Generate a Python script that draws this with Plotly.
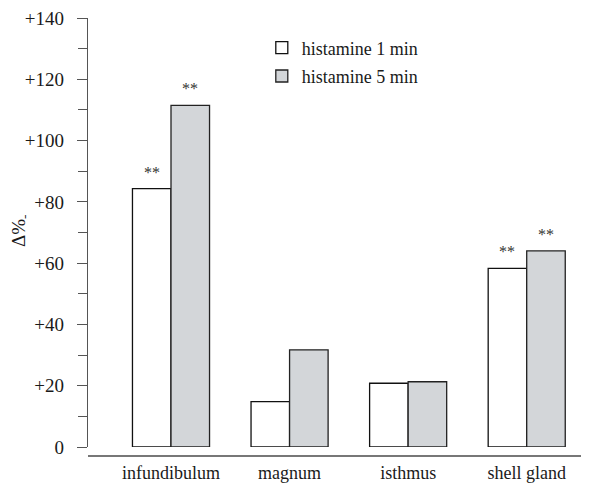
import plotly.graph_objects as go

categories = ["infundibulum", "magnum", "isthmus", "shell gland"]
series_names = ["histamine 1 min", "histamine 5 min"]
values_1min = [84.3, 14.8, 20.8, 58.3]
values_5min = [111.5, 31.7, 21.3, 64.0]
signif_1min = ["**", "", "", "**"]
signif_5min = ["**", "", "", "**"]
ytick_vals = [0, 20, 40, 60, 80, 100, 120, 140]
ytick_text = ["0", "+20", "+40", "+60", "+80", "+100", "+120", "+140"]
y_title = "Δ%<sub>-</sub>"

FONT = "Liberation Serif, Times New Roman, serif"
TXT = "#1a1a1a"

fig = go.Figure()
fig.add_trace(go.Bar(
    x=categories, y=values_1min, name=series_names[0],
    marker=dict(color="#ffffff", line=dict(color="#111111", width=1.3)),
    offsetgroup="a", legendgroup="a",
))
fig.add_trace(go.Bar(
    x=categories, y=values_5min, name=series_names[1],
    marker=dict(color="#d3d6d9", line=dict(color="#222222", width=1.3)),
    offsetgroup="b", legendgroup="b",
))

# significance markers
for i, cat in enumerate(categories):
    for vals, sig, shift in ((values_1min, signif_1min, -0.163), (values_5min, signif_5min, 0.163)):
        if sig[i]:
            fig.add_annotation(
                x=i + shift, y=vals[i], text=sig[i], showarrow=False,
                yanchor="bottom", yshift=6, xref="x", yref="y",
                font=dict(family=FONT, size=16, color="#333333"),
            )

# y axis title
fig.add_annotation(
    x=-0.1364, y=0.533, xref="paper", yref="paper", text=y_title,
    showarrow=False, textangle=-90, xanchor="center", yanchor="middle",
    font=dict(family=FONT, size=19, color=TXT),
)

# the page body has an 8px margin, so the figure is 8px smaller than the window
fig.update_layout(
    width=581, height=478,
    margin=dict(l=80, r=2.5, t=10, b=12, autoexpand=False),
    paper_bgcolor="white", plot_bgcolor="white",
    font=dict(family=FONT, size=17, color=TXT),
    barmode="group", bargap=0.35, bargroupgap=0,
    showlegend=True,
    legend=dict(
        x=0.349, y=0.975, xanchor="left", yanchor="top",
        bgcolor="rgba(0,0,0,0)", font=dict(family=FONT, size=18, color=TXT),
        tracegroupgap=2,
    ),
)
fig.update_xaxes(
    type="category", range=[-0.7, 3.5], automargin=False,
    anchor="free", position=0.0395,
    showline=True, linecolor="#777777", linewidth=2,
    ticks="", showgrid=False, zeroline=False,
    tickfont=dict(family=FONT, size=18, color=TXT),
)
fig.update_yaxes(
    range=[0, 140], domain=[0.0592, 1], automargin=False,
    tickvals=ytick_vals, ticktext=ytick_text, ticklabeloverflow="allow",
    showline=True, linecolor="#555555", linewidth=1.3,
    ticks="outside", ticklen=10, tickcolor="#555555", tickwidth=1.3,
    minor=dict(dtick=10, ticks="outside", ticklen=9, tickcolor="#555555", tickwidth=1.3),
    showgrid=False, zeroline=False,
    ticklabelstandoff=9,
    tickfont=dict(family=FONT, size=19, color=TXT),
)

fig.write_html("out.html")
